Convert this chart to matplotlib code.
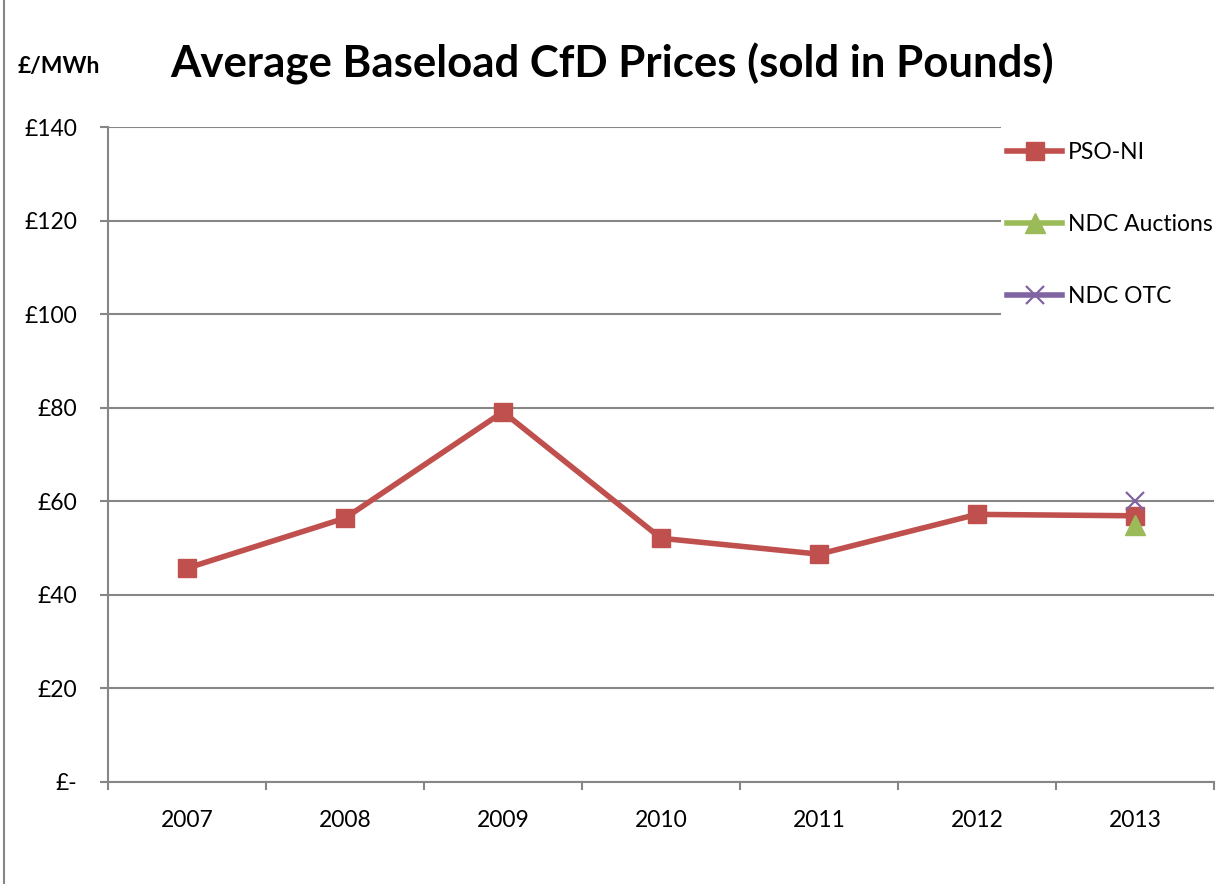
import matplotlib.pyplot as plt
from matplotlib.lines import Line2D
from matplotlib.patches import Rectangle
import numpy as np

plt.rcParams['font.family'] = ['Lato', 'DejaVu Sans']

# Average baseload CfD prices, £/MWh
years = ['2007', '2008', '2009', '2010', '2011', '2012', '2013']
pso_ni = [45.7, 56.4, 79.1, 52.1, 48.7, 57.2, 56.9]
ndc_auction_years = ['2013']
ndc_auctions = [54.9]
ndc_otc_years = ['2013']
ndc_otc = [60.0]

y_ticks = [0, 20, 40, 60, 80, 100, 120, 140]
y_labels = ['£-', '£20', '£40', '£60', '£80', '£100', '£120', '£140']

red = '#C0504D'
green = '#9BBB59'
purple = '#8064A2'
grid_grey = '#868686'

W, H = 1226, 884
fig = plt.figure(figsize=(W / 100, H / 100), dpi=100)
ax = fig.add_axes([108 / W, 1 - 782 / H, (1214 - 108) / W, (782 - 127) / H])

xpos = np.arange(len(years))
ax.plot(xpos, pso_ni, color=red, lw=4, marker='s', ms=13, zorder=3)
ax.plot([years.index(y) for y in ndc_auction_years], ndc_auctions,
        color=green, lw=4, marker='^', ms=14, ls='none', zorder=4)
ax.plot([years.index(y) for y in ndc_otc_years], ndc_otc,
        color=purple, lw=4, marker='x', ms=13, mew=1.6, ls='none', zorder=5)

ax.set_xlim(-0.5, len(years) - 0.5)
ax.set_ylim(0, 140)
ax.set_yticks(y_ticks)
ax.set_yticklabels(y_labels, fontsize=16.5)
ax.set_xticks(xpos)
ax.set_xticklabels(years, fontsize=16.5)
ax.set_xticks(np.arange(len(years) + 1) - 0.5, minor=True)
ax.tick_params(axis='x', which='major', length=0, pad=20)
ax.tick_params(axis='x', which='minor', length=6, width=1.5, color=grid_grey)
ax.tick_params(axis='y', length=6, width=1.5, color=grid_grey, pad=16)

ax.yaxis.grid(True, color=grid_grey, lw=1.5)
ax.set_axisbelow(True)
for side in ('top', 'right'):
    ax.spines[side].set_visible(False)
for side in ('left', 'bottom'):
    ax.spines[side].set_color(grid_grey)
    ax.spines[side].set_linewidth(1.5)

# white block behind the legend hides the gridlines there
fig.add_artist(Rectangle((1001 / W, 1 - 320 / H), (W - 1001) / W, 194 / H,
                         transform=fig.transFigure, facecolor='white',
                         edgecolor='none', zorder=2))

handles = [
    Line2D([], [], color=red, lw=4, marker='s', ms=13),
    Line2D([], [], color=green, lw=4, marker='^', ms=14),
    Line2D([], [], color=purple, lw=4, marker='x', ms=13, mew=1.6),
]
leg = fig.legend(handles, ['PSO-NI', 'NDC Auctions', 'NDC OTC'],
                 loc='upper left', bbox_to_anchor=(1007 / W, 1 - 142 / H),
                 frameon=False, fontsize=16.5, handlelength=2.4, handletextpad=0.25,
                 labelspacing=2.23, borderpad=0, borderaxespad=0)
leg.set_zorder(3)

fig.text(170 / W, 1 - 64 / H, 'Average Baseload CfD Prices (sold in Pounds)',
         fontsize=31.5, fontweight='bold', va='center', ha='left')
fig.text(18 / W, 1 - 66 / H, '£/MWh', fontsize=16.5, fontweight='bold',
         va='center', ha='left')

# chart area border on the left edge
fig.add_artist(Line2D([4 / W, 4 / W], [0, 1], color=grid_grey, lw=1.5))

fig.savefig('out.png', dpi=100)
